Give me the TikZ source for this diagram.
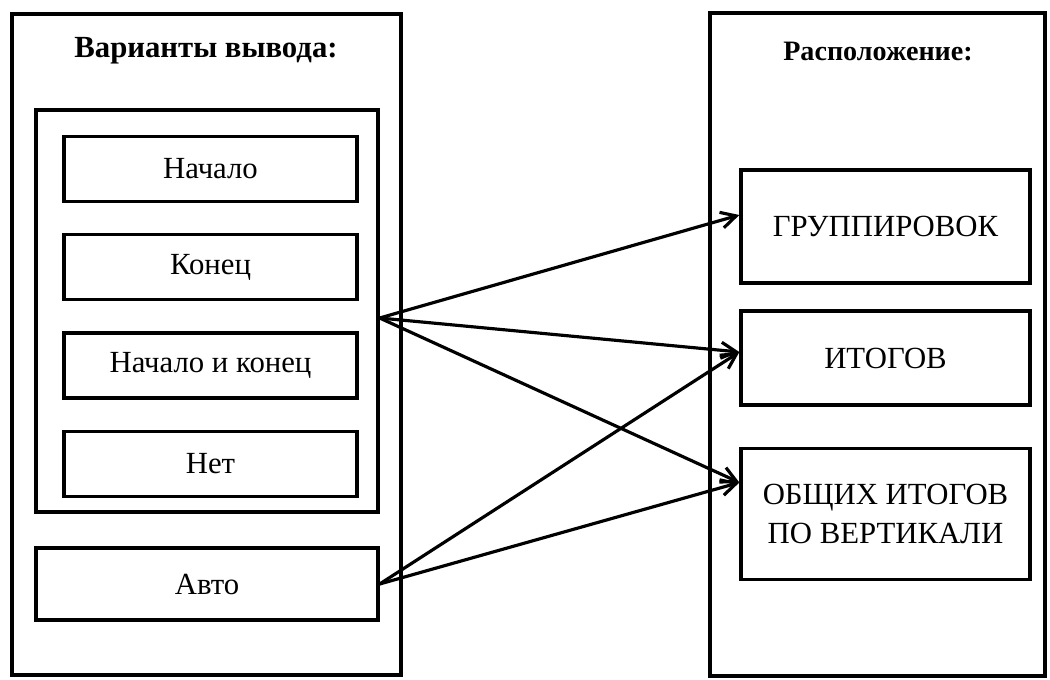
\documentclass[tikz,border=0pt]{standalone}
\usepackage{fontspec}
\setmainfont{Liberation Serif}
\usetikzlibrary{positioning,arrows.meta}

\begin{document}
\begin{tikzpicture}[
    x=0.02cm, y=-0.02cm,
    node distance=0.6cm,
    every node/.style={font=\fontsize{17.5}{22}\selectfont},
    frame/.style={rectangle, draw, line width=1.9pt},
    item/.style={frame, minimum width=5.86cm, minimum height=1.3cm},
    target/.style={frame, minimum width=5.78cm, align=center},
    title/.style={font=\fontsize{17.5}{21}\selectfont\bfseries},
    arrow/.style={-{Straight Barb[length=3mm,width=3.2mm]}, line width=1.8pt},
]
\useasboundingbox (0,0) rectangle (1050,679);
\node[frame, minimum width=7.78cm, minimum height=13.22cm] (left) at (206.5,344.5) {};
\node[title] (ltitle) at (206,51) {Варианты вывода:};
\node[frame, minimum width=6.84cm, minimum height=8.04cm] (group) at (207,311) {};
\node[item] (start) at (210.5,169) {Начало};
\node[item, below=of start] (end) {Конец};
\node[item, below=of end] (both) {Начало и конец};
\node[item, below=of both] (none) {Нет};
\node[frame, minimum width=6.84cm, minimum height=1.44cm] (auto) at (207,584) {Авто};

\node[frame, minimum width=6.7cm, minimum height=13.26cm] (right) at (877.5,344.5) {};
\node[title, font=\fontsize{16}{19}\selectfont\bfseries] (rtitle) at (878,51) {Расположение:};
\node[target, minimum height=2.26cm] (groups) at (885.5,226.5) {ГРУППИРОВОК};
\node[target, minimum height=1.88cm] (totals) at (885.5,358) {ИТОГОВ};
\node[target, minimum height=2.62cm] (grand) at (885.5,514) {ОБЩИХ ИТОГОВ\\ПО ВЕРТИКАЛИ};

\draw[arrow] ([yshift=-0.14cm]group.east) -- ([yshift=0.23cm]groups.west);
\draw[arrow] ([yshift=-0.14cm]group.east) -- ([yshift=0.12cm]totals.west);
\draw[arrow] ([yshift=-0.14cm]group.east) -- ([yshift=0.63cm]grand.west);
\draw[arrow] (auto.east) -- ([yshift=0.12cm]totals.west);
\draw[arrow] (auto.east) -- ([yshift=0.63cm]grand.west);
\end{tikzpicture}
\end{document}
